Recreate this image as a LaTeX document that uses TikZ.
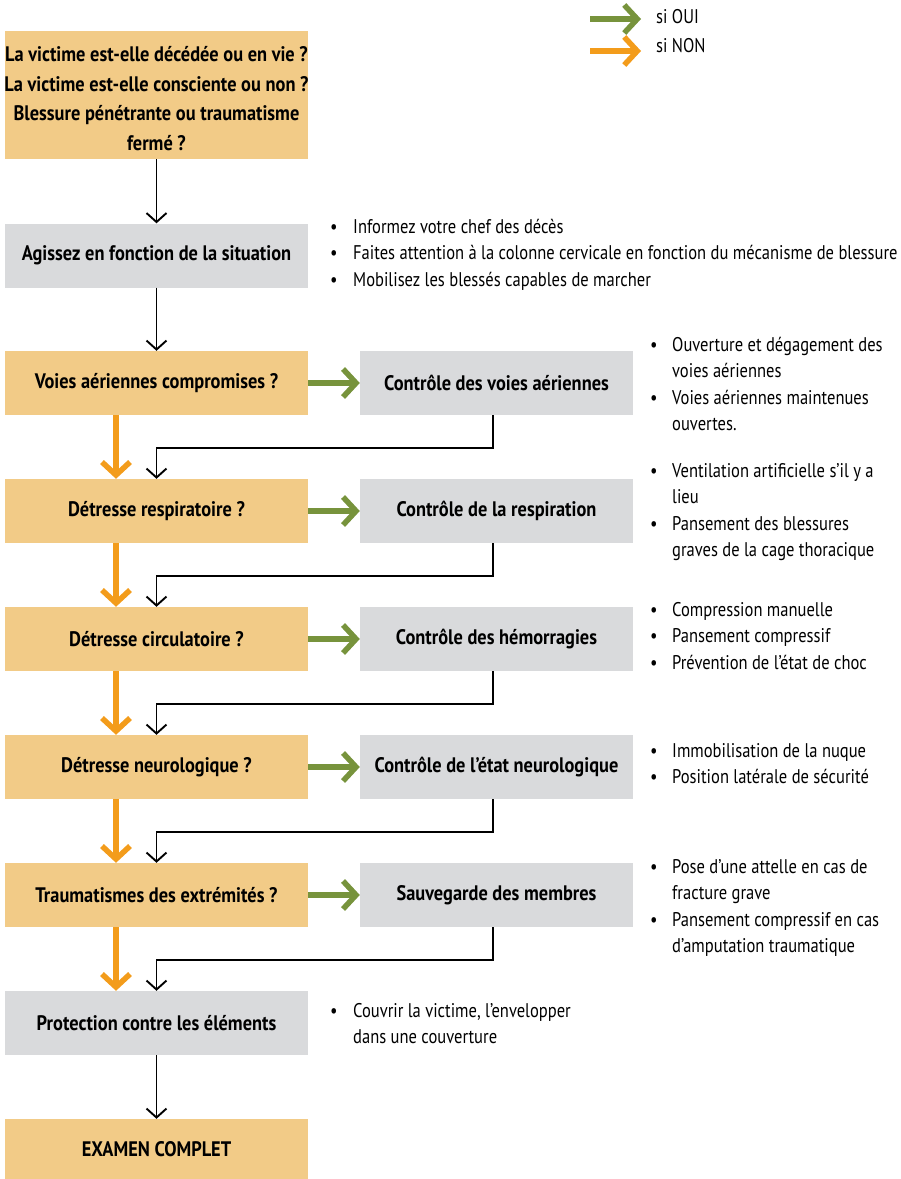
\documentclass[tikz,border=0pt]{standalone}
\usepackage{fontspec}
\setmainfont{PT Sans}[FakeStretch=0.835]
\newfontfamily\bfam{PT Sans}[FakeStretch=0.875]
\usetikzlibrary{arrows.meta}
\definecolor{boxor}{HTML}{F2CB87}
\definecolor{boxgr}{HTML}{D9DADC}
\definecolor{arrgr}{HTML}{77933C}
\definecolor{arror}{HTML}{F39C1B}
\begin{document}
\begin{tikzpicture}[x=1pt,y=-1pt,
  base/.style={draw=none, inner sep=0pt, align=center, font=\fontsize{21}{29.5}\selectfont\bfam\bfseries},
  qbox/.style={base, fill=boxor, minimum width=303pt, minimum height=64pt},
  gbox/.style={base, fill=boxgr, minimum width=303pt, minimum height=64pt},
  cbox/.style={base, fill=boxgr, minimum width=273pt, minimum height=64pt},
  lst/.style={inner sep=0pt, anchor=base west, font=\fontsize{19.8}{26.5}\selectfont},
  blk/.style={draw=black, line width=1.9pt, -{Straight Barb[length=9pt,width=20pt]}},
  yes/.style={draw=arrgr, line width=5.5pt, -{Straight Barb[length=13pt,width=28pt]}},
  no/.style={draw=arror, line width=5.5pt, -{Straight Barb[length=13pt,width=28pt]}},
]
\useasboundingbox (0,0) rectangle (901,1179);
% legend
\coordinate (ga) at (590,19); \coordinate (gb) at (641,19);
\coordinate (oa) at (590,51); \coordinate (ob) at (641,51);
\draw[yes] (ga) -- (gb);
\draw[no] (oa) -- (ob);
\node[lst, anchor=west] (lg1) at (656,17) {si OUI};
\node[lst, anchor=west] (lg2) at (656,46) {si NON};
% main column
\node[qbox, minimum height=128pt] (q0) at (156.5,95) {};
\node[base] (q0t) at (156.5,98.5) {La victime est-elle décédée ou en vie ?\\La victime est-elle consciente ou non ?\\Blessure pénétrante ou traumatisme\\fermé ?};
\node[gbox] (g1) at (156.5,255.5) {Agissez en fonction de la situation};
\node[qbox] (q1) at (156.5,383) {Voies aériennes compromises ?};
\node[qbox] (q2) at (156.5,511) {Détresse respiratoire ?};
\node[qbox] (q3) at (156.5,639) {Détresse circulatoire ?};
\node[qbox] (q4) at (156.5,767) {Détresse neurologique ?};
\node[qbox] (q5) at (156.5,895) {Traumatismes des extrémités ?};
\node[gbox] (g7) at (156.5,1023) {Protection contre les éléments};
\node[qbox, minimum height=60pt] (ex) at (156.5,1149) {EXAMEN COMPLET};
% control boxes
\node[cbox] (c1) at (496.5,383) {Contrôle des voies aériennes};
\node[cbox] (c2) at (496.5,511) {Contrôle de la respiration};
\node[cbox] (c3) at (496.5,639) {Contrôle des hémorragies};
\node[cbox] (c4) at (496.5,767) {Contrôle de l’état neurologique};
\node[cbox] (c5) at (496.5,895) {Sauvegarde des membres};
% connectors
\draw[blk] (q0) -- (g1);
\draw[blk] (g1) -- (q1);
\foreach \a/\b in {1/2,2/3,3/4,4/5}{
  \draw[yes] (q\a.east) -- (c\a.west);
  \draw[no] ([xshift=-40.5pt]q\a.south) -- ([xshift=-40.5pt]q\b.north);
  \draw[blk] ([xshift=-3.5pt]c\a.south) -- ++(0,33) -| (q\b.north);
}
\draw[yes] (q5.east) -- (c5.west);
\draw[no] ([xshift=-40.5pt]q5.south) -- ([xshift=-40.5pt]g7.north);
\draw[blk] ([xshift=-3.5pt]c5.south) -- ++(0,33) -| (g7.north);
\draw[blk] (g7) -- (ex);
% bullet lists
\node[lst] (l1) at (330,233) {\begin{tabular}[t]{@{}p{23pt}@{}l@{}}•&Informez votre chef des décès\\•&Faites attention à la colonne cervicale en fonction du mécanisme de blessure\\•&Mobilisez les blessés capables de marcher\end{tabular}};
\node[lst] (l2) at (650,351) {\begin{tabular}[t]{@{}p{22pt}@{}l@{}}•&Ouverture et dégagement des\\&voies aériennes\\•&Voies aériennes maintenues\\&ouvertes.\end{tabular}};
\node[lst] (l3) at (650,477) {\begin{tabular}[t]{@{}p{22pt}@{}l@{}}•&Ventilation artificielle s’il y a\\&lieu\\•&Pansement des blessures\\&graves de la cage thoracique\end{tabular}};
\node[lst] (l4) at (650,616) {\begin{tabular}[t]{@{}p{22pt}@{}l@{}}•&Compression manuelle\\•&Pansement compressif\\•&Prévention de l’état de choc\end{tabular}};
\node[lst] (l5) at (650,757) {\begin{tabular}[t]{@{}p{22pt}@{}l@{}}•&Immobilisation de la nuque\\•&Position latérale de sécurité\end{tabular}};
\node[lst] (l6) at (650,873) {\begin{tabular}[t]{@{}p{22pt}@{}l@{}}•&Pose d’une attelle en cas de\\&fracture grave\\•&Pansement compressif en cas\\&d’amputation traumatique\end{tabular}};
\node[lst] (l7) at (330,1017) {\begin{tabular}[t]{@{}p{23pt}@{}l@{}}•&Couvrir la victime, l’envelopper\\&dans une couverture\end{tabular}};
\end{tikzpicture}
\end{document}
